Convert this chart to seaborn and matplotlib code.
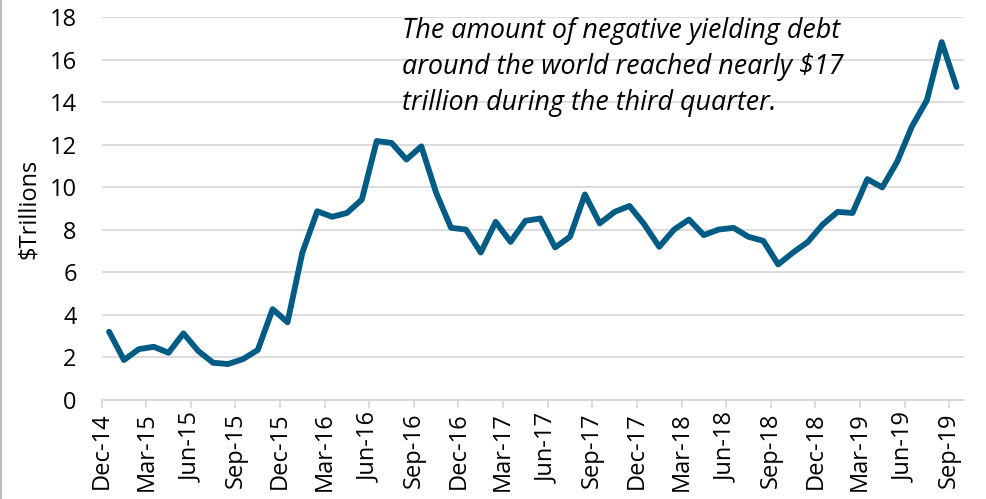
import numpy as np
import pandas as pd
import matplotlib
matplotlib.use("Agg")
import matplotlib.pyplot as plt
import seaborn as sns

# monthly values, Dec-14 .. Sep-19 ($ trillions)
months = pd.date_range("2014-12-01", "2019-09-01", freq="MS")
values = [3.21, 1.88, 2.39, 2.50, 2.22, 3.13, 2.30, 1.75, 1.69, 1.92,
          2.35, 4.27, 3.65, 6.93, 8.87, 8.61, 8.79, 9.42, 12.17, 12.08,
          11.30, 11.92, 9.73, 8.09, 8.01, 6.93, 8.37, 7.43, 8.42, 8.53,
          7.17, 7.67, 9.66, 8.30, 8.84, 9.12, 8.25, 7.20, 8.01, 8.48,
          7.75, 8.01, 8.09, 7.67, 7.48, 6.37, 6.93, 7.43, 8.25, 8.84,
          8.79, 10.38, 9.99, 11.19, 12.86, 14.08, 16.82, 14.71]
tick_labels = [m.strftime("%b-%y") for m in months[::3]]

df = pd.DataFrame({"idx": np.arange(len(values)), "value": values})

sns.set_theme(style="white")
plt.rcParams["font.family"] = ["Open Sans", "DejaVu Sans"]
plt.rcParams["text.color"] = "black"
plt.rcParams["xtick.color"] = "black"
plt.rcParams["ytick.color"] = "black"
plt.rcParams["axes.labelcolor"] = "black"

fig = plt.figure(figsize=(9.86, 4.99), dpi=100)
ax = fig.add_axes([0.1031, 0.1984, 0.8746, 0.7676])

sns.lineplot(data=df, x="idx", y="value", ax=ax, color="#005B85", linewidth=4.2)

ax.set_xlim(-0.5, len(values) - 0.5)
ax.set_ylim(0, 18)
ax.set_yticks(np.arange(0, 19, 2))
ax.set_yticklabels([str(v) for v in range(0, 19, 2)], fontsize=17)
ax.set_xticks(np.arange(-0.5, len(values) - 0.5, 3))
ax.set_xticklabels(tick_labels, rotation=90, fontsize=17)
ax.grid(axis="y", color="#D9D9D9", linewidth=1.3)
ax.set_axisbelow(True)

for s in ["top", "right", "left"]:
    ax.spines[s].set_visible(False)
ax.spines["bottom"].set_color("#D9D9D9")
ax.spines["bottom"].set_linewidth(1.5)
ax.tick_params(axis="x", length=6, width=1.3, color="#D9D9D9", pad=3, bottom=True)
ax.tick_params(axis="y", length=0, pad=18)

ax.set_xlabel("")
ax.set_ylabel("$Trillions", fontsize=17, labelpad=6)

fig.text(402 / 986, 1 - 17 / 499,
         "The amount of negative yielding debt\naround the world reached nearly $17\ntrillion during the third quarter.",
         fontsize=19.4, style="italic", va="top", ha="left", linespacing=1.38)

# left border line of the chart frame
fig.add_artist(plt.Line2D([0.001, 0.001], [0, 1], color="#BFBFBF", linewidth=1.5))

fig.savefig("out.png", dpi=100)
